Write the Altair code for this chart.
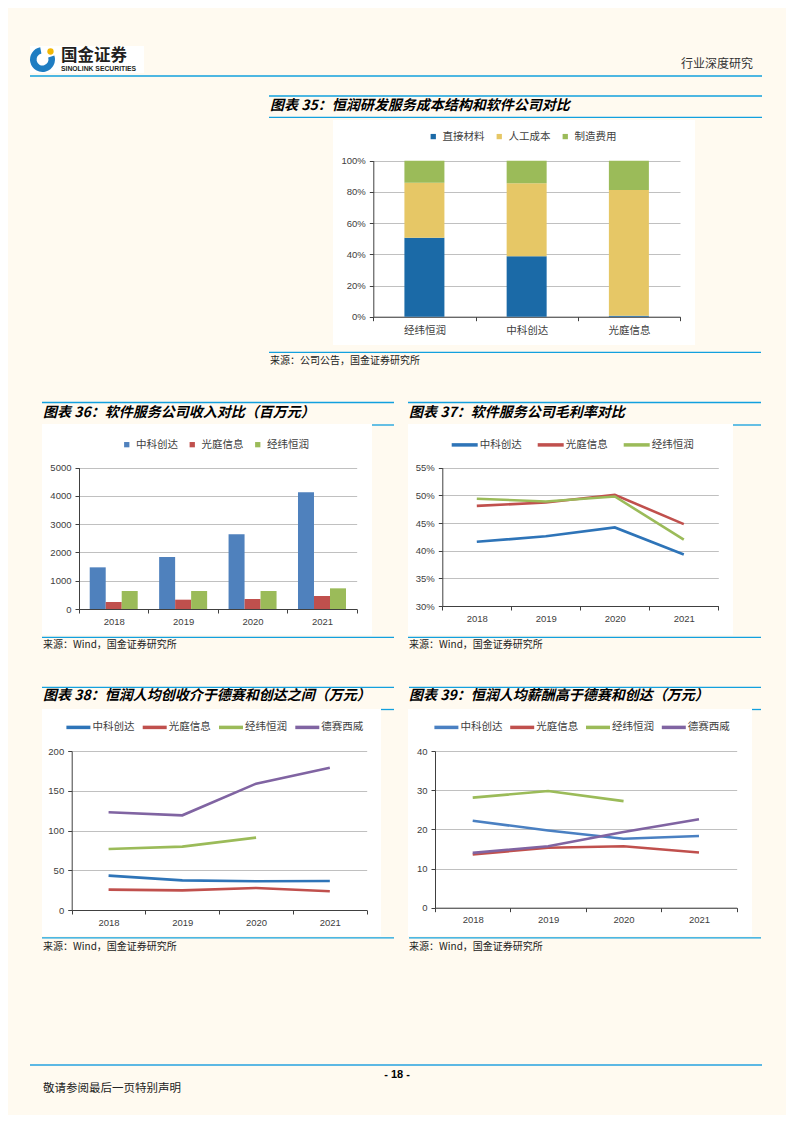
import altair as alt
import pandas as pd

# ---------------- data ----------------
c35_companies = ["经纬恒润", "中科创达", "光庭信息"]
c35_items = ["直接材料", "人工成本", "制造费用"]
c35_direct = [50.6, 38.7, 0.6]
c35_labor = [35.3, 46.8, 80.6]
c35_mfg = [14.1, 14.5, 18.8]

years = ["2018", "2019", "2020", "2021"]
c36_series = ["中科创达", "光庭信息", "经纬恒润"]
c36_zkcd = [1474, 1840, 2642, 4127]
c36_gtxx = [248, 330, 354, 460]
c36_jwhr = [637, 637, 637, 731]

c37_series = ["中科创达", "光庭信息", "经纬恒润"]
c37_zkcd = [41.6, 42.6, 44.2, 39.3]
c37_gtxx = [48.1, 48.7, 50.1, 44.8]
c37_jwhr = [49.4, 48.9, 49.8, 42.0]

c38_series = ["中科创达", "光庭信息", "经纬恒润", "德赛西威"]
c38_zkcd = [43.2, 37.3, 36.1, 36.5]
c38_gtxx = [25.6, 24.7, 27.7, 23.5]
c38_jwhr = [76.7, 79.7, 91.0, None]
c38_dsxw = [122.9, 119.1, 158.9, 179.0]

c39_series = ["中科创达", "光庭信息", "经纬恒润", "德赛西威"]
c39_zkcd = [22.2, 19.7, 17.6, 18.3]
c39_gtxx = [13.6, 15.3, 15.7, 14.1]
c39_jwhr = [28.1, 29.8, 27.2, None]
c39_dsxw = [14.0, 15.7, 19.3, 22.6]

# ---------------- layout helpers ----------------
W, H = 778, 1107
OX, OY = 8, 8


def X(p):
    return p - OX


def Y(p):
    return p - OY


CREAM = "#FFFAF0"
LINE_BLUE = "#12A0DE"
CJK = "Noto Sans CJK SC"
NUM = "Liberation Sans"
AXC = "#404040"
LABC = "#404040"
GRID = "#C0C0C0"
ONE = alt.Data(values=[{"a": 1}])


def rect(x1, x2, y1, y2, color):
    return alt.Chart(ONE).mark_rect(color=color, strokeWidth=0).encode(
        x=alt.value(X(x1)), x2=alt.value(X(x2)), y=alt.value(Y(y1)), y2=alt.value(Y(y2)))


def hline(x1, x2, y, color=LINE_BLUE, w=1.3):
    return alt.Chart(ONE).mark_rule(color=color, strokeWidth=w).encode(
        x=alt.value(X(x1)), x2=alt.value(X(x2)), y=alt.value(Y(y)))


def text(s, x, y, size, font=CJK, weight="normal", style="normal", color="#222222", align="left"):
    return alt.Chart(ONE).mark_text(
        text=s, align=align, baseline="middle", font=font, fontSize=size,
        fontWeight=weight, fontStyle=style, color=color).encode(
        x=alt.value(X(x)), y=alt.value(Y(y)))


def long_df(names, lists):
    rows = []
    for name, vals in zip(names, lists):
        for yr, v in zip(years, vals):
            if v is not None:
                rows.append({"year": yr, "series": name, "value": v})
    return pd.DataFrame(rows)


def x_axis(bottom, font=NUM, size=9.5, pad=3):
    return alt.Axis(orient="bottom", offset=Y(bottom) - H, title=None, labelAngle=0,
                    tickBand="extent", grid=False, domainColor=AXC, tickColor=AXC,
                    tickSize=4, labelPadding=pad, labelFont=font, labelFontSize=size,
                    labelColor=LABC, zindex=0)


def y_axis(left, values, expr=None):
    kw = dict(orient="left", offset=-X(left), title=None, values=values, grid=True,
              gridColor=GRID, gridWidth=1, domainColor=AXC, tickColor=AXC, tickSize=4,
              labelPadding=4, labelFont=NUM, labelFontSize=9.5, labelColor=LABC, zindex=0,
              format="d")
    if expr:
        kw["labelExpr"] = expr
    return alt.Axis(**kw)


def legend_sq(lx, ly, colpad, n):
    return alt.Legend(orient="none", legendX=X(lx), legendY=Y(ly), direction="horizontal",
                      title=None, symbolType="square", symbolSize=28, symbolStrokeWidth=0,
                      labelFont=CJK, labelFontSize=10.5, labelColor=LABC, labelOffset=4,
                      columnPadding=colpad, padding=0, columns=n)


def legend_ln(lx, ly, colpad, n, sym, off):
    return alt.Legend(orient="none", legendX=X(lx), legendY=Y(ly), direction="horizontal",
                      title=None, symbolType="stroke", symbolSize=sym * sym, symbolStrokeWidth=3.5,
                      labelFont=CJK, labelFontSize=10.5, labelColor=LABC, labelOffset=off,
                      columnPadding=colpad, padding=0, columns=n)


layers = []

# ---------- page background (white boxes are the chart background) ----------
cream = [
    (0, 800, 0, 120),
    (0, 333, 119, 346), (695, 800, 119, 346),
    (0, 800, 345, 424),
    (0, 42, 423, 636), (372, 408, 423, 636), (733, 800, 423, 636),
    (0, 800, 635, 709),
    (0, 42, 708, 937), (381, 408, 708, 937), (752, 800, 708, 937),
    (0, 800, 936, 1130),
]
for c in cream:
    layers.append(rect(c[0], c[1], c[2], c[3], CREAM))

# ---------- header ----------
layers.append(rect(30, 144, 46, 73, "white"))
layers.append(alt.Chart(ONE).mark_arc(theta=1.25, theta2=6.1, radius=12.5, radius2=6,
                                       color="#1F7DC2").encode(x=alt.value(X(42.5)), y=alt.value(Y(59.5))))
layers.append(alt.Chart(ONE).mark_circle(size=40, color="#F2B705", opacity=1).encode(
    x=alt.value(X(50.5)), y=alt.value(Y(51.5))))
layers.append(text("国金证券", 61, 55.5, 16.5, weight="bold", color="#231F20"))
layers.append(text("SINOLINK SECURITIES", 61, 68.7, 6.8, font=NUM, weight="bold", color="#231F20"))
layers.append(text("行业深度研究", 681, 63.5, 12, color="#333333"))
layers.append(hline(30, 762, 76, w=1.5))

# ---------- section lines / titles / sources ----------
layers += [hline(269, 762, 96), hline(269, 762, 117.3), hline(269, 761, 352.3)]
layers.append(text("图表 35：恒润研发服务成本结构和软件公司对比", 270, 105.5, 14, weight="bold", style="italic", color="#000000"))
layers.append(text("来源：公司公告，国金证券研究所", 270, 361, 10, color="#222222"))

layers += [hline(42, 394, 402.5), hline(372, 394, 425), hline(42, 394, 637.3)]
layers.append(text("图表 36：软件服务公司收入对比（百万元）", 43, 412.5, 14, weight="bold", style="italic", color="#000000"))
layers.append(text("来源：Wind，国金证券研究所", 43, 645, 10, color="#222222"))

layers += [hline(408, 761, 402.5), hline(733, 761, 425), hline(408, 761, 637.3)]
layers.append(text("图表 37：软件服务公司毛利率对比", 409, 412.5, 14, weight="bold", style="italic", color="#000000"))
layers.append(text("来源：Wind，国金证券研究所", 409, 645, 10, color="#222222"))

layers += [hline(42, 394, 687.3), hline(381, 394, 709.5), hline(42, 394, 937.8)]
layers.append(text("图表 38：恒润人均创收介于德赛和创达之间（万元）", 43, 696, 14, weight="bold", style="italic", color="#000000"))
layers.append(text("来源：Wind，国金证券研究所", 43, 946.5, 10, color="#222222"))

layers += [hline(409, 761, 687.3), hline(752, 761, 709.5), hline(409, 761, 937.8)]
layers.append(text("图表 39：恒润人均薪酬高于德赛和创达（万元）", 409, 696, 14, weight="bold", style="italic", color="#000000"))
layers.append(text("来源：Wind，国金证券研究所", 409, 946.5, 10, color="#222222"))

# ---------- footer ----------
layers.append(hline(30, 762, 1065, color="#5CB8E4", w=2))
layers.append(text("- 18 -", 397, 1074.5, 11, font=NUM, weight="bold", color="#000000", align="center"))
layers.append(text("敬请参阅最后一页特别声明", 43, 1089, 11.5, color="#222222"))

# ---------- chart 35: stacked bars ----------
rows35 = []
for i, comp in enumerate(c35_companies):
    for k, (item, vals) in enumerate(zip(c35_items, [c35_direct, c35_labor, c35_mfg])):
        rows35.append({"company": comp, "item": item, "value": vals[i], "k": k})
df35 = pd.DataFrame(rows35)
ch35 = alt.Chart(df35).mark_bar(width=40).encode(
    x=alt.X("company:N", sort=c35_companies,
            scale=alt.Scale(range=[X(373.3), X(680)], paddingInner=0, paddingOuter=0),
            axis=x_axis(316.7, font=CJK, size=10.5, pad=5)),
    y=alt.Y("value:Q", stack="zero",
            scale=alt.Scale(domain=[0, 100], range=[Y(316.7), Y(160.7)], nice=False),
            axis=y_axis(373.3, [0, 20, 40, 60, 80, 100], "datum.value + '%'")),
    color=alt.Color("item:N", scale=alt.Scale(domain=c35_items, range=["#1B6AA7", "#E6C766", "#9BBB59"]),
                    legend=legend_sq(428, 131.2, 9, 3)),
    order=alt.Order("k:Q"),
)
layers.append(ch35)

# ---------- chart 36: grouped bars ----------
df36 = long_df(c36_series, [c36_zkcd, c36_gtxx, c36_jwhr])
ch36 = alt.Chart(df36).mark_bar().encode(
    x=alt.X("year:N", sort=years,
            scale=alt.Scale(range=[X(79), X(356.7)], paddingInner=0, paddingOuter=0),
            axis=x_axis(609)),
    xOffset=alt.XOffset("series:N", sort=c36_series,
                        scale=alt.Scale(domain=c36_series, paddingInner=0, paddingOuter=0.67)),
    y=alt.Y("value:Q", scale=alt.Scale(domain=[0, 5000], range=[Y(609), Y(467.7)], nice=False),
            axis=y_axis(79, [0, 1000, 2000, 3000, 4000, 5000])),
    color=alt.Color("series:N", scale=alt.Scale(domain=c36_series, range=["#4F81BD", "#C0504D", "#9BBB59"]),
                    legend=legend_sq(121.5, 439.3, 8.5, 3)),
)
layers.append(ch36)


def line_chart(df, series, colors, xl, xr, yb, yt, dom, vals, expr, leg):
    return alt.Chart(df).mark_line(strokeWidth=2.6).encode(
        x=alt.X("year:N", sort=years, bandPosition=0.5,
                scale=alt.Scale(type="band", range=[X(xl), X(xr)], paddingInner=0, paddingOuter=0),
                axis=x_axis(yb)),
        y=alt.Y("value:Q", scale=alt.Scale(domain=dom, range=[Y(yb), Y(yt)], nice=False, zero=False),
                axis=y_axis(xl, vals, expr)),
        color=alt.Color("series:N", scale=alt.Scale(domain=series, range=colors), legend=leg),
    )


# ---------- chart 37 ----------
df37 = long_df(c37_series, [c37_zkcd, c37_gtxx, c37_jwhr])
layers.append(line_chart(df37, c37_series, ["#2E74B8", "#C0504D", "#9BBB59"],
                         442.3, 718.3, 606, 467.7, [30, 55], [30, 35, 40, 45, 50, 55],
                         "datum.value + '%'", legend_ln(449.7, 429.9, 9, 3, 26, 0)))

# ---------- chart 38 ----------
df38 = long_df(c38_series, [c38_zkcd, c38_gtxx, c38_jwhr, c38_dsxw])
layers.append(line_chart(df38, c38_series, ["#2E74B8", "#C0504D", "#9BBB59", "#8064A2"],
                         71.7, 366.7, 910, 751, [0, 200], [0, 50, 100, 150, 200],
                         None, legend_ln(64.4, 713.4, 1.3, 4, 24, 0)))

# ---------- chart 39 ----------
df39 = long_df(c39_series, [c39_zkcd, c39_gtxx, c39_jwhr, c39_dsxw])
layers.append(line_chart(df39, c39_series, ["#4A80C2", "#C0504D", "#9BBB59", "#8064A2"],
                         435, 736.7, 907.7, 751, [0, 40], [0, 10, 20, 30, 40],
                         None, legend_ln(432.4, 713.4, 0.8, 4, 24, 0)))

chart = alt.layer(*layers).resolve_scale(
    x="independent", y="independent", color="independent", xOffset="independent"
).resolve_axis(x="independent", y="independent").resolve_legend(color="independent").properties(
    width=W, height=H, padding=0, autosize=alt.AutoSizeParams(type="none"), background="white"
).configure_view(stroke=None)

chart.save("out.html", embed_options={"renderer": "svg", "actions": False})
